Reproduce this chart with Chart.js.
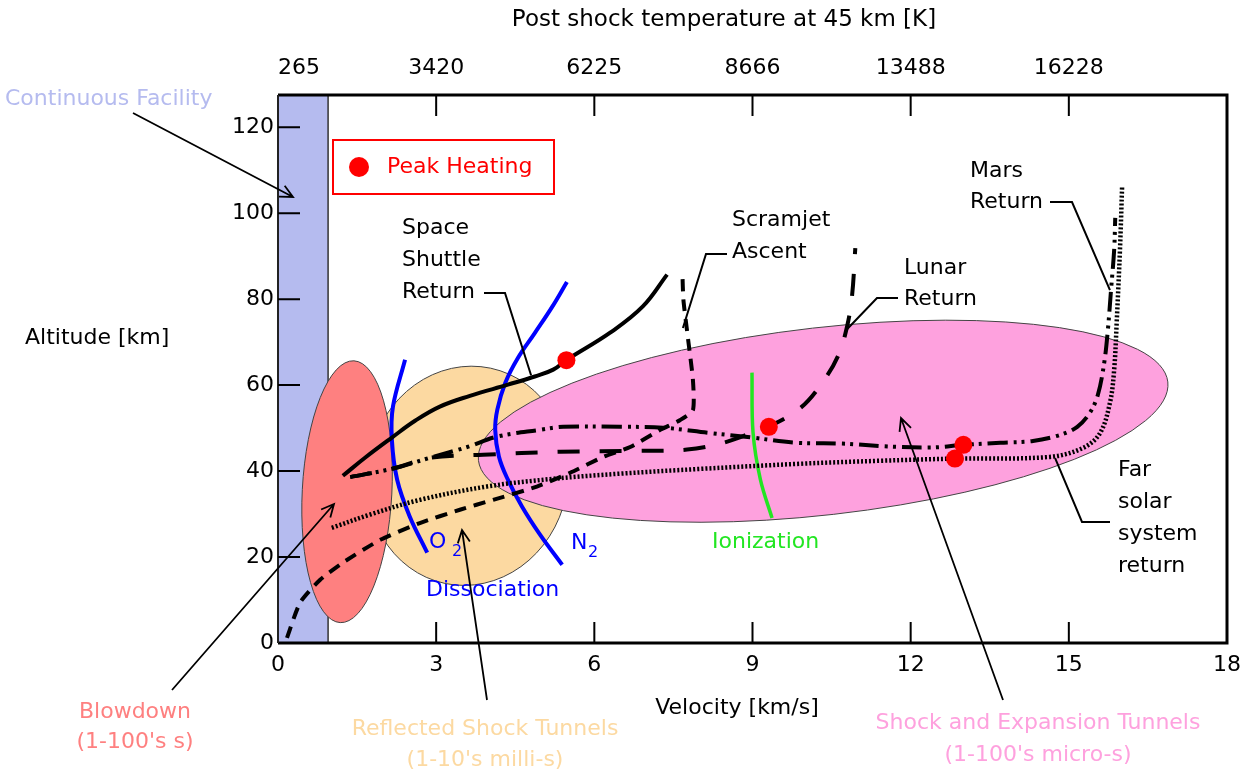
<!DOCTYPE html>
<html>
<head>
<meta charset="utf-8">
<script src="https://cdn.jsdelivr.net/npm/chart.js@4.4.1/dist/chart.umd.min.js"></script>
<style>
  html, body { margin: 0; padding: 0; background: #fff; }
  canvas { display: block; }
</style>
</head>
<body>
<canvas id="flight" width="1255" height="772"></canvas>
<script>
// ---- axis ticks ----
const velocityTicks = [0, 3, 6, 9, 12, 15, 18];
const altitudeTicks = [0, 20, 40, 60, 80, 100, 120];
const tempTickVel = [0.4, 3, 6, 9, 12, 15];
const tempTickLabels = ['265', '3420', '6225', '8666', '13488', '16228'];

// ---- trajectories: velocity [km/s], altitude [km] ----
const shuttleVel = [1.23, 1.65, 2.16, 2.60, 3.07, 3.64, 4.36, 4.87, 5.22, 5.48, 6.30, 6.92, 7.38];
const shuttleAlt = [38.9, 43.1, 47.8, 51.7, 55.0, 57.5, 60.1, 62.0, 63.6, 65.9, 72.2, 78.3, 85.7];

const scramjetVel = [0.17, 0.42, 0.80, 1.23, 1.94, 2.69, 3.45, 4.08, 4.91, 5.54, 6.17, 6.68, 7.25, 7.63, 7.87, 7.87, 7.78, 7.69, 7.67];
const scramjetAlt = [1.2, 9.4, 14.7, 18.7, 24.0, 27.9, 31.0, 33.3, 36.4, 39.6, 43.3, 45.6, 49.6, 51.9, 54.2, 61.2, 70.5, 79.8, 86.1];

const lunarVel = [1.37, 2.22, 2.88, 3.89, 5.35, 6.87, 7.76, 8.39, 8.95, 9.31, 9.91, 10.32, 10.63, 10.80, 10.89, 10.95];
const lunarAlt = [38.6, 40.7, 43.1, 43.8, 44.5, 44.7, 45.0, 46.4, 48.7, 50.3, 54.7, 60.5, 67.0, 74.0, 81.0, 91.9];

const marsVel = [1.37, 2.22, 2.88, 3.59, 4.15, 4.97, 5.41, 6.49, 7.30, 8.16, 8.99, 9.81, 10.70, 11.59, 12.42, 13.00, 13.70, 14.32, 14.83, 15.16, 15.40, 15.55, 15.67, 15.74, 15.80, 15.86, 15.88];
const marsAlt = [38.6, 40.7, 43.1, 45.6, 48.0, 49.6, 50.3, 50.3, 50.1, 48.9, 47.8, 46.6, 46.4, 45.7, 45.5, 46.1, 46.6, 47.0, 48.4, 50.3, 53.6, 57.7, 65.1, 72.8, 82.1, 91.5, 98.9];

const farVel = [1.02, 1.75, 2.69, 3.96, 5.22, 6.49, 8.00, 9.90, 11.42, 12.84, 14.64, 15.27, 15.59, 15.78, 15.86, 15.91, 15.97, 16.01];
const farAlt = [26.8, 29.9, 33.3, 36.4, 38.2, 39.4, 40.5, 41.7, 42.4, 42.9, 43.3, 45.4, 48.8, 55.9, 63.6, 75.2, 91.5, 106.1];

// ---- chemistry boundaries ----
const o2Vel = [2.41, 2.18, 2.16, 2.26, 2.50, 2.83];
const o2Alt = [65.9, 55.0, 47.3, 38.0, 29.4, 21.0];
const n2Vel = [5.48, 5.20, 4.87, 4.55, 4.31, 4.16, 4.12, 4.19, 4.36, 4.63, 4.97, 5.39];
const n2Alt = [84.0, 78.2, 72.1, 66.3, 60.5, 54.3, 49.6, 43.4, 38.0, 31.7, 25.2, 18.2];
const ionVel = [8.99, 9.01, 9.15, 9.37];
const ionAlt = [62.9, 49.0, 38.0, 29.1];

// ---- peak heating points ----
const peakVel = [5.47, 9.31, 13.00, 12.84];
const peakAlt = [65.8, 50.3, 46.1, 42.9];

// ---- facility envelopes ----
const FONT = '"DejaVu Sans", Verdana, sans-serif';
const continuousBand = { vMin: 0, vMax: 0.95, color: '#b5bbef' };
const envelopes = [
  { name: 'reflected', cv: 3.60, ch: 38.9, rv: 1.90, rh: 25.6, tilt: 12, color: '#fcd9a1' },
  { name: 'blowdown', cv: 1.31, ch: 35.2, rv: 0.85, rh: 30.5, tilt: 3, color: '#fe8080' },
  { name: 'shock', cv: 10.34, ch: 51.6, rv: 6.58, rh: 21.8, tilt: -6.5, color: '#fea1de' }
];

const pts = (vel, alt) => vel.map((v, i) => ({ x: v, y: alt[i] }));
function curve(vel, alt, extra) {
  return Object.assign({
    data: pts(vel, alt), showLine: true, pointRadius: 0, borderColor: '#000',
    borderWidth: 4, tension: 0.35, fill: false, borderCapStyle: 'butt', borderJoinStyle: 'round'
  }, extra);
}

// envelopes and facility band behind the trajectories
const regionsPlugin = {
  id: 'regions',
  beforeDatasetsDraw(chart) {
    const { ctx, chartArea: a, scales: { x, y } } = chart;
    ctx.save();
    const bx0 = x.getPixelForValue(continuousBand.vMin), bx1 = x.getPixelForValue(continuousBand.vMax);
    ctx.fillStyle = continuousBand.color;
    ctx.fillRect(bx0, a.top, bx1 - bx0, a.bottom - a.top);
    ctx.strokeStyle = '#333';
    ctx.lineWidth = 1.5;
    ctx.beginPath();
    ctx.moveTo(bx1, a.top); ctx.lineTo(bx1, a.bottom);
    ctx.stroke();
    envelopes.forEach(e => {
      const cx = x.getPixelForValue(e.cv), cy = y.getPixelForValue(e.ch);
      const rx = x.getPixelForValue(e.cv + e.rv) - cx;
      const ry = cy - y.getPixelForValue(e.ch + e.rh);
      ctx.beginPath();
      ctx.ellipse(cx, cy, rx, ry, e.tilt * Math.PI / 180, 0, Math.PI * 2);
      ctx.fillStyle = e.color;
      ctx.fill();
      ctx.strokeStyle = '#444';
      ctx.lineWidth = 1;
      ctx.stroke();
    });
    ctx.restore();
  }
};

function arrow(ctx, x0, y0, x1, y1) {
  ctx.beginPath();
  ctx.moveTo(x0, y0); ctx.lineTo(x1, y1);
  const ang = Math.atan2(y1 - y0, x1 - x0), L = 14, w = 0.45;
  ctx.moveTo(x1 - L * Math.cos(ang - w), y1 - L * Math.sin(ang - w));
  ctx.lineTo(x1, y1);
  ctx.lineTo(x1 - L * Math.cos(ang + w), y1 - L * Math.sin(ang + w));
  ctx.stroke();
}
function leader(ctx, points) {
  ctx.beginPath();
  points.forEach((p, i) => i ? ctx.lineTo(p[0], p[1]) : ctx.moveTo(p[0], p[1]));
  ctx.stroke();
}
function lines(ctx, textLines, x, y0, step) {
  textLines.forEach((t, i) => ctx.fillText(t, x, y0 + i * step));
}

// frame, inward ticks, titles and annotations
const overlayPlugin = {
  id: 'overlay',
  afterDatasetsDraw(chart) {
    const { ctx, chartArea: a, scales: { x, y } } = chart;
    const X = v => x.getPixelForValue(v), Y = h => y.getPixelForValue(h);
    ctx.save();

    // frame
    ctx.strokeStyle = '#000';
    ctx.lineWidth = 3;
    ctx.beginPath();
    ctx.moveTo(a.left, a.top); ctx.lineTo(a.right, a.top); ctx.lineTo(a.right, a.bottom); ctx.lineTo(a.left, a.bottom);
    ctx.stroke();
    ctx.lineWidth = 2;
    ctx.strokeStyle = '#222';
    ctx.beginPath(); ctx.moveTo(a.left, a.top); ctx.lineTo(a.left, a.bottom); ctx.stroke();

    // inward tick marks
    ctx.strokeStyle = '#000';
    ctx.lineWidth = 2;
    ctx.beginPath();
    x.ticks.forEach(t => {
      if (t.value <= 0 || t.value >= 18) return;
      const p = X(t.value);
      ctx.moveTo(p, a.bottom); ctx.lineTo(p, a.bottom - 21);
    });
    chart.scales.x2.ticks.forEach(t => {
      if (t.value < 1) return;
      const p = chart.scales.x2.getPixelForValue(t.value);
      ctx.moveTo(p, a.top); ctx.lineTo(p, a.top + 21);
    });
    y.ticks.forEach(t => {
      if (t.value <= 0) return;
      const p = Y(t.value);
      ctx.moveTo(a.left, p); ctx.lineTo(a.left + 22, p);
    });
    ctx.stroke();

    ctx.font = '22px ' + FONT;
    ctx.textBaseline = 'middle';

    // axis titles
    ctx.fillStyle = '#000';
    ctx.textAlign = 'center';
    ctx.font = '23px ' + FONT;
    ctx.fillText('Post shock temperature at 45 km [K]', 724, 20);
    ctx.font = '22px ' + FONT;
    ctx.fillText('Velocity [km/s]', 737, 708);
    ctx.textAlign = 'left';
    ctx.fillText('Altitude [km]', 25, 338);

    // trajectory names
    lines(ctx, ['Space', 'Shuttle', 'Return'], 402, 228, 32);
    lines(ctx, ['Scramjet', 'Ascent'], 732, 220, 32);
    lines(ctx, ['Lunar', 'Return'], 904, 268, 31);
    lines(ctx, ['Mars', 'Return'], 970, 171, 31);
    lines(ctx, ['Far', 'solar', 'system', 'return'], 1118, 470, 32);

    ctx.lineWidth = 2;
    ctx.strokeStyle = '#000';
    leader(ctx, [[484, 293], [505, 293], [X(4.8), Y(62.3)]]);
    leader(ctx, [[727, 254], [706, 254], [X(7.68), Y(73.3)]]);
    leader(ctx, [[898, 298], [877, 298], [X(10.77), Y(72.7)]]);
    leader(ctx, [[1050, 202], [1072, 202], [X(15.78), Y(82.1)]]);
    leader(ctx, [[1110, 522], [1082, 522], [X(14.74), Y(43.0)]]);

    // chemistry labels
    ctx.fillStyle = '#0000ff';
    ctx.fillText('O', 429, 542);
    ctx.fillText('N', 571, 543);
    ctx.fillText('Dissociation', 426, 590);
    ctx.font = '16px ' + FONT;
    ctx.fillText('2', 452, 552);
    ctx.fillText('2', 588, 553);
    ctx.font = '22px ' + FONT;
    ctx.fillStyle = '#22e622';
    ctx.fillText('Ionization', 712, 542);

    // facility labels
    ctx.fillStyle = '#b5bbef';
    ctx.fillText('Continuous Facility', 5, 99);
    ctx.textAlign = 'center';
    ctx.fillStyle = '#fe8080';
    ctx.fillText('Blowdown', 135, 712);
    ctx.fillText("(1-100's s)", 135, 742);
    ctx.fillStyle = '#fcd9a1';
    ctx.fillText('Reflected Shock Tunnels', 485, 729);
    ctx.fillText("(1-10's milli-s)", 485, 760);
    ctx.fillStyle = '#fea1de';
    ctx.fillText('Shock and Expansion Tunnels', 1038, 723);
    ctx.fillText("(1-100's micro-s)", 1038, 755);

    ctx.strokeStyle = '#000';
    ctx.lineWidth = 1.8;
    arrow(ctx, 133, 113, 293, 197);
    arrow(ctx, 172, 690, 334, 504);
    arrow(ctx, 487, 700, 462, 530);
    arrow(ctx, 1003, 700, 901, 418);

    // peak heating key
    ctx.strokeStyle = '#ff0000';
    ctx.lineWidth = 2;
    ctx.strokeRect(333, 140, 221, 54);
    ctx.fillStyle = '#ff0000';
    ctx.beginPath(); ctx.arc(359, 167, 10, 0, Math.PI * 2); ctx.fill();
    ctx.textAlign = 'left';
    ctx.fillText('Peak Heating', 387, 167);

    ctx.restore();
  }
};

const tickFont = { family: FONT, size: 22 };
new Chart(document.getElementById('flight'), {
  type: 'scatter',
  data: {
    datasets: [
      { label: 'Peak Heating', data: pts(peakVel, peakAlt), pointRadius: 9, pointBackgroundColor: '#ff0000', pointBorderWidth: 0, showLine: false },
      curve(shuttleVel, shuttleAlt, { label: 'Space Shuttle Return', tension: 0.4 }),
      curve(scramjetVel, scramjetAlt, { label: 'Scramjet Ascent', borderDash: [12, 8], tension: 0.2 }),
      curve(lunarVel, lunarAlt, { label: 'Lunar Return', borderDash: [22, 20] }),
      curve(marsVel, marsAlt, { label: 'Mars Return', borderDash: [20, 6, 3, 5, 3, 6] }),
      curve(farVel, farAlt, { label: 'Far solar system return', borderDash: [2, 2], borderWidth: 4.5 }),
      curve(o2Vel, o2Alt, { label: 'O2', borderColor: '#0000ff', borderWidth: 4 }),
      curve(n2Vel, n2Alt, { label: 'N2', borderColor: '#0000ff', borderWidth: 4, tension: 0.4 }),
      curve(ionVel, ionAlt, { label: 'Ionization', borderColor: '#22e622', borderWidth: 3.5 })
    ]
  },
  options: {
    responsive: false,
    animation: false,
    events: [],
    layout: { padding: { right: 28 } },
    plugins: { legend: { display: false }, tooltip: { enabled: false } },
    scales: {
      x: {
        type: 'linear', position: 'bottom', min: 0, max: 18,
        afterBuildTicks: s => { s.ticks = velocityTicks.map(v => ({ value: v })); },
        afterFit: s => { s.height = 129; },
        grid: { display: false, drawTicks: false }, border: { display: false },
        ticks: { font: tickFont, color: '#000', padding: 9, maxRotation: 0, minRotation: 0, autoSkip: false }
      },
      x2: {
        type: 'linear', position: 'top', min: 0, max: 18,
        afterBuildTicks: s => { s.ticks = tempTickVel.map(v => ({ value: v })); },
        afterFit: s => { s.height = 95; },
        grid: { display: false, drawTicks: false }, border: { display: false },
        ticks: { font: tickFont, color: '#000', padding: 14, maxRotation: 0, minRotation: 0, autoSkip: false,
                 callback: (v, i) => tempTickLabels[i] }
      },
      y: {
        type: 'linear', min: 0, max: 127.5,
        afterBuildTicks: s => { s.ticks = altitudeTicks.map(v => ({ value: v })); },
        afterFit: s => { s.width = 278; },
        grid: { display: false, drawTicks: false }, border: { display: false },
        ticks: { font: tickFont, color: '#000', padding: 4, autoSkip: false }
      }
    }
  },
  plugins: [regionsPlugin, overlayPlugin]
});
</script>
</body>
</html>
